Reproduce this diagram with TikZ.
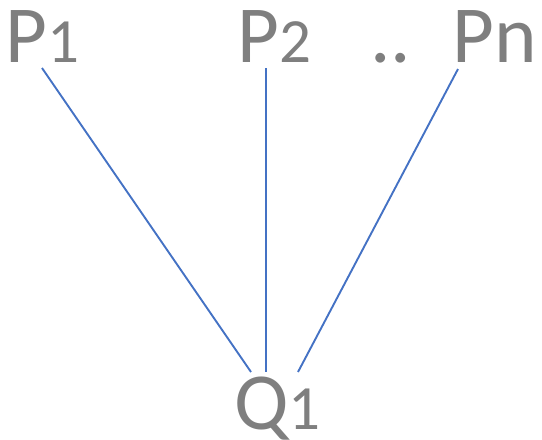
\documentclass[tikz,border=0pt]{standalone}
\usepackage{fontspec}
\setmainfont{Carlito}
\definecolor{txtgray}{HTML}{7F7F7F}
\definecolor{lnblue}{HTML}{4472C4}
\tikzset{
  lbl/.style={anchor=base west,inner sep=0pt,text=txtgray,font=\fontsize{81}{81}\selectfont},
  conn/.style={draw=lnblue,line width=1.9pt}
}
\newcommand{\subd}[1]{{\fontsize{63}{63}\selectfont #1}}
\begin{document}
\begin{tikzpicture}[x=1pt,y=-1pt]
\useasboundingbox (0,0) rectangle (542,440);
\node[lbl] (P1) at (5,62) {P\subd{1}};
\node[lbl] (P2) at (237,62) {P\subd{2}};
\node[lbl] (dots) at (370,62) {..};
\node[lbl] (Pn) at (452,62) {Pn};
\node[lbl] (Q1) at (234,429) {Q\subd{1}};
\coordinate (a1) at (42,68);
\coordinate (a2) at (266,68);
\coordinate (a3) at (458,69);
\coordinate (b1) at (251,372);
\coordinate (b2) at (266,372);
\coordinate (b3) at (298,372);
\draw[conn] (a1) -- (b1);
\draw[conn] (a2) -- (b2);
\draw[conn] (a3) -- (b3);
\end{tikzpicture}
\end{document}
